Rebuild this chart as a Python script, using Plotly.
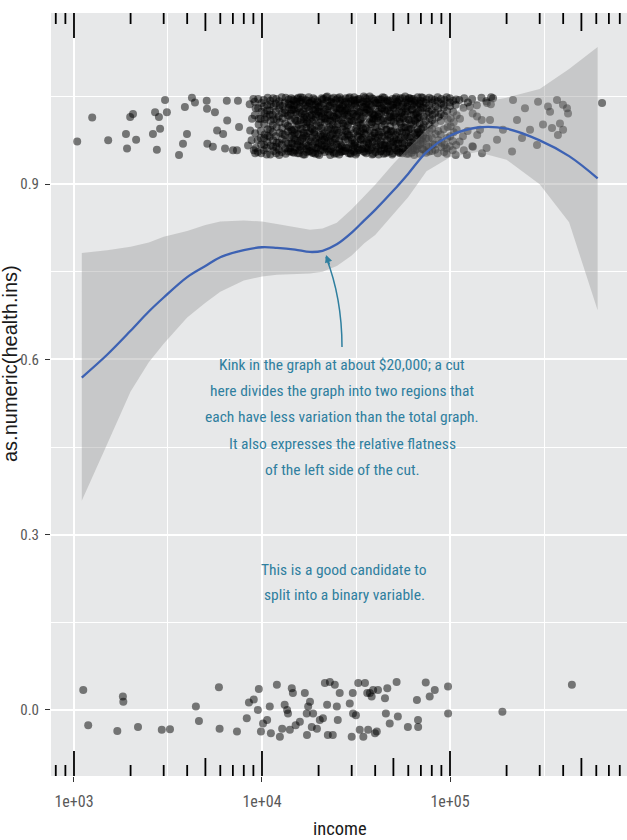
import math
import plotly.graph_objects as go

# ---- smoothed fit of health insurance on income, with its confidence band ----
fit_income = [1100, 1500, 2000, 2500, 3000, 4000, 5000, 6000, 8000, 10000, 12000, 15000, 18000,
              21000, 25000, 30000, 35000, 40000, 50000, 60000, 75000, 100000, 140000, 200000,
              300000, 430000, 610000]
fit_mid = [0.569, 0.608, 0.649, 0.682, 0.706, 0.741, 0.760, 0.775, 0.787, 0.792, 0.791, 0.788, 0.784,
           0.786, 0.797, 0.817, 0.838, 0.856, 0.889, 0.918, 0.955, 0.983, 0.997, 0.995,
           0.975, 0.948, 0.910]
fit_high = [0.782, 0.787, 0.793, 0.800, 0.810, 0.820, 0.830, 0.836, 0.838, 0.836, 0.832, 0.826, 0.822,
            0.824, 0.834, 0.857, 0.880, 0.899, 0.935, 0.962, 0.993, 1.022, 1.039, 1.048,
            1.063, 1.097, 1.135]
fit_low = [0.358, 0.455, 0.545, 0.595, 0.627, 0.672, 0.697, 0.716, 0.735, 0.742, 0.745, 0.746, 0.747,
           0.750, 0.760, 0.778, 0.799, 0.813, 0.848, 0.878, 0.922, 0.946, 0.955, 0.942,
           0.900, 0.835, 0.684]

# ---- jittered observations without insurance (health.ins = 0) ----
bottom_income = [1120, 1190, 1700, 1820, 1830, 2190, 2930, 3240, 4450, 4620, 5900, 5950, 7360, 8300,
                 8520, 9040, 9500, 9620, 9870, 10130, 10650, 11000, 11150, 12000, 12450, 12800,
                 13200, 13600, 13750, 14070, 14400, 14600, 15100, 15900, 16900, 17300, 17350,
                 17600, 18000, 18400, 18700, 19600, 20300, 21100, 21600, 22200, 22400, 22960,
                 23800, 24400, 25000, 25300, 25900, 29300, 30000, 30400, 30500, 31600, 32500,
                 33100, 34600, 35300, 36300, 36700, 37500, 38300, 39000, 39900, 40800, 41400,
                 45100, 45600, 46400, 47800, 52000, 52800, 59700, 66700, 67600, 67700, 74300,
                 78000, 83000, 97600, 97700, 190000, 445000]
bottom_health = [0.034, -0.026, -0.036, 0.023, 0.014, -0.029, -0.034, -0.033, 0.006, -0.019, 0.039,
                 -0.032, -0.037, -0.014, 0.013, 0.018, 0.0, 0.036, -0.037, -0.023, -0.017, 0.006,
                 -0.04, 0.043, -0.046, -0.032, 0.009, 0.0, -0.006, -0.034, 0.037, 0.029, -0.026,
                 -0.02, 0.029, -0.006, -0.043, 0.006, 0.014, -0.029, -0.006, -0.032, -0.017,
                 -0.014, 0.046, 0.009, -0.043, 0.048, -0.043, 0.043, 0.006, -0.017, 0.029, 0.011,
                 -0.046, 0.029, -0.006, -0.009, 0.046, -0.034, -0.046, 0.046, 0.029, -0.034,
                 0.029, 0.023, 0.034, -0.04, -0.037, 0.034, 0.02, -0.006, 0.037, -0.023, 0.048,
                 -0.011, -0.029, 0.017, -0.017, -0.029, 0.047, 0.023, 0.034, 0.04, -0.006,
                 -0.003, 0.043]

# ---- jittered observations with insurance (health.ins = 1) ----
# sparse low incomes
top_left_income = [1040, 1250, 1520, 1890, 1915, 1990, 2060, 2140, 2630, 2700, 2760, 2830, 2870,
                   3050, 3120, 3620, 3800, 3890, 3990, 4240, 4400, 5080, 5100, 5120, 5480, 5620,
                   5770, 6210, 6360, 6500, 6530, 7010, 7360, 7450, 7550, 8430, 8600, 8650, 8800,
                   8850, 9000, 9050]
top_left_health = [0.973, 1.014, 0.975, 0.986, 0.961, 1.015, 1.020, 0.976, 0.986, 1.023, 0.959,
                   1.015, 0.995, 1.044, 1.023, 0.950, 0.969, 1.032, 0.986, 1.048, 1.040, 1.043,
                   1.029, 0.969, 0.964, 1.023, 0.992, 0.986, 0.961, 1.043, 1.009, 0.958, 0.958,
                   1.043, 0.998, 0.966, 1.037, 0.992, 0.975, 1.012, 1.046, 0.958]

# dense middle incomes: one income per column, several jittered values per column
cloud_income = [9200, 9540, 9900, 10270, 10660, 11060, 11470, 11900, 12350, 12810, 13290, 13790,
                14300, 14840, 15390, 15970, 16570, 17190, 17830, 18500, 19190, 19910, 20650,
                21430, 22230, 23060, 23920, 24820, 25740, 26710, 27710, 28740, 29820, 30930,
                32090, 33290, 34540, 35830, 37170, 38560, 40000, 41500, 43050, 44660, 46330,
                48070, 49860, 51730, 53670, 55670, 57760, 59920, 62160, 64480, 66900, 69400,
                72000, 74690, 77480, 80380, 83390, 86510, 89750, 93110, 96600, 100200, 104000,
                107900]
cloud_health = [
    [1.041, 0.987, 0.962, 1.018, 0.953, 1.030],
    [0.955, 1.030, 1.002, 0.975, 1.046, 1.012],
    [1.012, 0.968, 1.039, 0.991, 0.953, 1.024, 0.979],
    [1.044, 0.979, 1.021, 0.958, 1.003, 0.985, 1.033, 0.967, 1.011],
    [0.962, 1.035, 0.994, 1.015, 0.972, 1.048, 0.951, 1.026, 0.983],
    [1.026, 0.951, 1.008, 0.981, 1.043, 0.966, 1.019, 0.994, 1.037],
    [0.989, 1.047, 0.957, 1.019, 0.975, 1.033, 1.001, 0.964, 1.011],
    [1.038, 0.964, 0.998, 1.024, 0.953, 1.011, 0.982, 1.046, 0.971],
    [0.971, 1.042, 1.006, 0.959, 1.029, 0.988, 1.016, 0.950, 1.035],
    [1.049, 0.977, 1.013, 0.955, 0.996, 1.034, 0.968, 1.022, 0.986],
    [0.984, 1.022, 0.952, 1.040, 1.004, 0.973, 1.027, 0.961, 1.048],
    [1.017, 0.961, 1.045, 0.990, 0.969, 1.031, 1.000, 0.956, 1.038],
    [0.956, 1.036, 0.983, 1.009, 1.047, 0.970, 1.021, 0.993, 1.028],
    [1.028, 0.993, 0.963, 1.043, 0.978, 1.012, 0.954, 1.035, 0.987],
    [0.999, 1.046, 0.967, 1.020, 0.986, 0.953, 1.037, 1.008, 0.974],
    [1.033, 0.974, 1.010, 0.958, 1.041, 0.995, 1.023, 0.965, 1.049],
    [0.965, 1.025, 0.988, 1.048, 0.951, 1.006, 0.979, 1.039, 1.014],
    [1.044, 0.997, 0.960, 1.030, 0.982, 1.015, 0.969, 1.003, 0.955],
    [0.976, 1.039, 1.003, 0.957, 1.026, 0.990, 1.049, 0.963, 1.017],
    [1.019, 0.954, 1.036, 0.980, 1.007, 0.966, 1.042, 0.994, 1.028],
    [0.992, 1.028, 0.962, 1.045, 0.973, 1.014, 0.985, 0.952, 1.036],
    [1.040, 0.970, 1.017, 0.952, 1.032, 0.999, 0.963, 1.024, 0.981],
    [0.958, 1.011, 1.047, 0.984, 1.022, 0.967, 1.035, 0.996, 0.975],
    [1.024, 0.987, 0.955, 1.038, 0.976, 1.005, 1.046, 0.964, 1.013],
    [0.981, 1.043, 1.008, 0.961, 1.029, 0.993, 0.970, 1.050, 1.018],
    [1.034, 0.959, 0.995, 1.018, 0.950, 1.041, 0.983, 1.009, 0.972],
    [0.972, 1.016, 1.048, 0.986, 0.964, 1.027, 1.002, 0.955, 1.039],
    [1.013, 0.953, 1.031, 0.978, 1.044, 0.968, 0.997, 1.022, 0.985],
    [0.988, 1.037, 0.960, 1.021, 0.974, 1.049, 1.009, 0.951, 1.030],
    [1.045, 0.982, 1.014, 0.956, 1.033, 0.994, 0.965, 1.026, 1.004],
    [0.963, 1.026, 0.991, 1.040, 0.957, 1.004, 1.019, 0.977, 1.047],
    [1.030, 0.975, 1.047, 1.001, 0.962, 1.016, 0.985, 1.038, 0.953],
    [0.994, 1.042, 0.958, 1.023, 0.980, 1.036, 0.952, 1.010, 0.969],
    [1.008, 0.966, 1.035, 0.987, 1.049, 0.971, 1.020, 0.956, 1.043],
    [0.954, 1.018, 0.983, 1.044, 1.000, 0.962, 1.031, 0.991, 1.025],
    [1.039, 0.990, 1.025, 0.959, 1.011, 0.977, 1.046, 0.968, 1.002],
    [0.979, 1.032, 0.956, 1.003, 1.041, 0.968, 1.015, 0.995, 1.050],
    [1.022, 0.961, 1.046, 0.985, 0.953, 1.028, 0.996, 1.037, 0.973],
    [0.969, 1.012, 0.992, 1.037, 0.976, 1.050, 0.958, 1.024, 1.006],
    [1.047, 0.983, 1.020, 0.963, 1.006, 0.972, 1.034, 0.951, 1.013],
    [0.987, 1.029, 0.955, 1.043, 0.998, 0.966, 1.017, 0.979, 1.039],
    [1.016, 0.960, 1.038, 0.979, 1.024, 0.951, 1.008, 1.045, 0.990],
    [0.973, 1.045, 0.989, 1.010, 0.957, 1.030, 0.968, 1.021, 0.999],
    [1.035, 0.968, 1.002, 0.952, 1.048, 0.981, 1.013, 0.961, 1.027],
    [0.993, 1.027, 0.962, 1.040, 0.975, 1.009, 0.955, 1.044, 0.984],
    [1.043, 0.979, 1.014, 0.956, 0.999, 1.032, 0.967, 1.021, 0.990],
    [0.965, 1.031, 0.990, 1.046, 0.972, 1.007, 0.953, 1.036, 1.016],
    [1.021, 0.958, 1.036, 0.984, 1.049, 0.969, 1.003, 0.976, 1.041],
    [0.976, 1.044, 1.007, 0.961, 1.025, 0.991, 1.034, 0.954, 1.012],
    [1.033, 0.988, 0.953, 1.015, 0.970, 1.047, 0.996, 1.024, 0.962],
    [0.970, 1.040, 0.997, 1.019, 0.957, 1.030, 0.983, 1.050, 1.006],
    [1.025, 0.960, 1.047, 0.981, 1.011, 0.966, 1.038, 0.993, 0.952],
    [0.982, 1.018, 0.954, 1.042, 0.995, 1.028, 0.971, 1.005, 1.046],
    [1.046, 0.974, 1.009, 0.962, 1.033, 0.987, 1.019, 0.950, 1.040],
    [0.960, 1.036, 0.994, 1.022, 0.978, 1.049, 0.965, 1.012, 0.988],
    [1.014, 0.985, 1.043, 0.952, 1.027, 0.969, 1.004, 1.037, 0.976],
    [0.997, 1.031, 0.959, 1.048, 0.983, 1.016, 0.972, 1.041, 1.002],
    [1.039, 0.966, 1.021, 0.989, 0.954, 1.045, 1.008, 0.978, 1.030],
    [0.978, 1.048, 1.001, 0.964, 1.035, 0.992, 1.024, 0.956, 1.013],
    [1.027, 0.957, 1.040, 0.980, 1.010, 0.968, 1.046, 0.995, 1.019],
    [0.968, 1.022, 0.986, 1.044, 0.959, 1.033, 1.004],
    [1.042, 0.991, 1.015, 0.953, 1.029, 0.975, 1.049],
    [0.985, 1.038, 0.963, 1.008, 1.046, 0.971, 1.020],
    [1.031, 0.955, 1.044, 0.994, 1.017, 0.967, 1.036],
    [0.961, 1.025, 0.998, 1.049, 0.979, 1.011, 0.952],
    [1.047, 0.982, 1.013, 0.965, 1.034, 0.999, 1.040],
    [0.974, 1.043, 1.006, 0.958, 1.024, 0.989],
    [1.036, 0.967, 1.018, 0.950, 1.045, 0.993],
]

# the busiest stretch of incomes, between the columns above
core_income = [14040, 14570, 15110, 15680, 16270, 16880, 17510, 18160, 18840, 19550, 20280, 21040,
               21830, 22640, 23490, 24370, 25280, 26220, 27210, 28220, 29280, 30370, 31510, 32690,
               33910, 35180, 36500, 37860, 39280, 40750, 42270, 43850, 45490, 47190, 48960, 50790,
               52690, 54660, 56710, 58830, 61030, 63310, 65680, 68140, 70690]
core_health = [
    [0.998, 1.036, 0.962, 1.017, 0.980], [1.027, 0.969, 1.045, 0.991, 0.955],
    [0.975, 1.009, 1.041, 0.958, 1.024], [1.048, 0.986, 0.953, 1.030, 1.002],
    [0.963, 1.021, 0.994, 1.044, 0.977], [1.011, 0.951, 1.035, 0.983, 1.019],
    [0.987, 1.043, 0.966, 1.006, 1.032], [1.039, 0.973, 1.014, 0.957, 0.996],
    [0.954, 1.026, 0.989, 1.047, 1.010], [1.020, 0.961, 1.042, 0.978, 1.001],
    [0.971, 1.033, 1.005, 0.950, 1.024], [1.045, 0.992, 0.959, 1.016, 0.982],
    [0.979, 1.012, 1.049, 0.965, 1.028], [1.034, 0.956, 0.997, 1.022, 0.974],
    [0.960, 1.040, 1.008, 0.985, 1.046], [1.015, 0.977, 1.031, 0.952, 0.993],
    [0.992, 1.047, 0.963, 1.019, 1.003], [1.029, 0.968, 1.010, 1.043, 0.955],
    [0.957, 1.022, 0.981, 1.036, 0.999], [1.041, 0.990, 1.018, 0.962, 1.027],
    [0.983, 1.030, 0.953, 1.007, 1.049], [1.008, 0.964, 1.044, 0.976, 1.021],
    [0.969, 1.016, 0.995, 1.038, 0.951], [1.046, 0.981, 1.023, 0.958, 1.005],
    [0.976, 1.037, 0.960, 1.012, 0.990], [1.023, 0.955, 1.048, 0.987, 1.032],
    [0.994, 1.028, 0.971, 1.041, 0.962], [1.037, 0.959, 1.003, 1.025, 0.980],
    [0.952, 1.019, 0.988, 1.046, 1.011], [1.012, 0.974, 1.039, 0.963, 0.998],
    [0.985, 1.045, 0.956, 1.020, 1.034], [1.030, 0.967, 1.008, 0.981, 1.049],
    [0.966, 1.024, 0.993, 1.042, 0.953], [1.042, 0.986, 1.015, 0.960, 1.026],
    [0.973, 1.035, 0.951, 1.009, 0.991], [1.018, 0.962, 1.046, 0.978, 1.030],
    [0.989, 1.040, 0.970, 1.014, 0.957], [1.047, 0.980, 1.022, 0.954, 1.004],
    [0.961, 1.013, 0.997, 1.037, 0.975], [1.025, 0.952, 1.033, 0.988, 1.044],
    [0.980, 1.047, 0.965, 1.010, 0.994], [1.036, 0.971, 1.002, 1.028, 0.958],
    [0.958, 1.020, 0.984, 1.043, 1.007], [1.014, 0.990, 1.038, 0.966, 1.024],
    [0.995, 1.031, 0.960, 1.049, 0.978],
]

# sparse high incomes
top_right_income = [112000, 112500, 113000, 118000, 118500, 119000, 124000, 124500, 131000,
                    131500, 132000, 139000, 139500, 147000, 147500, 156000, 156500, 165000,
                    165500, 169400, 157300, 163200, 177900, 191300, 213800, 216400, 227200,
                    241500, 250500, 266500, 290300, 294000, 312400, 332000, 340500, 348800,
                    370800, 375000, 384500, 399000, 419000, 424400, 399500, 144400, 148000,
                    132400, 123000, 139200, 127600, 117200, 644000]
top_right_health = [1.044, 0.973, 1.012, 1.031, 0.958, 1.047, 0.991, 1.040, 1.046, 0.965, 1.021,
                    1.035, 0.984, 1.048, 1.010, 1.042, 0.962, 1.037, 1.049, 1.047, 1.039, 1.010,
                    0.976, 0.993, 0.956, 1.044, 1.010, 0.979, 1.030, 0.993, 0.967, 1.041, 1.002,
                    1.033, 1.024, 0.996, 1.044, 0.984, 1.004, 1.036, 1.030, 1.021, 0.993, 0.993,
                    0.953, 0.964, 0.950, 1.016, 1.033, 0.982, 1.039]

# axis labelling
x_tick_vals = [1e3, 1e4, 1e5]
x_tick_text = ["1e+03", "1e+04", "1e+05"]
y_tick_vals = [0.0, 0.3, 0.6, 0.9]
y_tick_text = ["0.0", "0.3", "0.6", "0.9"]

note_kink = ["Kink in the graph at about $20,000; a cut",
             "here divides the graph into two regions that",
             "each have less variation than the total graph.",
             "It also expresses the relative flatness",
             "of the left side of the cut."]
note_binary = ["This is a good candidate to",
               "split into a binary variable."]

# ---- styling / geometry ----
W, H = 627, 840
M_L, M_R, M_T, M_B = 51, 0, 13, 64
PW, PH = W - M_L - M_R, H - M_T - M_B
PANEL = "#e7e8e9"
TEAL = "#2f7f9f"
NARROW = "Liberation Sans Narrow, Arial Narrow, Roboto Condensed, sans-serif"
X_RANGE = [2.8777, 5.9415]        # log10(income)
Y_RANGE = [-0.113, 1.193]


def px_x(px):
    return (px - M_L) / PW


def px_y(py):
    return (H - M_B - py) / PH


# flatten the top band
top_income = list(top_left_income)
top_health = list(top_left_health)
for incomes, rows in ((cloud_income, cloud_health), (core_income, core_health)):
    for inc, vals in zip(incomes, rows):
        for k, v in enumerate(vals):
            top_income.append(inc * (1 + 0.006 * (k % 3 - 1)))
            top_health.append(v)
top_income += top_right_income
top_health += top_right_health

marker = dict(color="black", opacity=0.5, size=8, line=dict(width=0))

fig = go.Figure()
fig.add_trace(go.Scatter(x=bottom_income, y=bottom_health, mode="markers", marker=marker,
                         hoverinfo="skip"))
fig.add_trace(go.Scatter(x=top_income, y=top_health, mode="markers", marker=marker,
                         hoverinfo="skip"))
# confidence ribbon
fig.add_trace(go.Scatter(x=fit_income + fit_income[::-1], y=fit_high + fit_low[::-1],
                         mode="lines", fill="toself", fillcolor="rgba(153,153,153,0.4)",
                         line=dict(width=0), hoverinfo="skip"))
# smooth line
fig.add_trace(go.Scatter(x=fit_income, y=fit_mid, mode="lines",
                         line=dict(color="#3d62b3", width=2.3, shape="spline"),
                         hoverinfo="skip"))

shapes = []
# log ticks along top and bottom of the panel
lo, hi = X_RANGE
for d in range(2, 7):
    for k in range(1, 10):
        v = k * 10 ** d
        if not (lo <= math.log10(v) <= hi):
            continue
        L = 25 if k == 1 else (18 if k == 5 else 11)
        for anchor, sign in ((1, -1), (0, 1)):
            shapes.append(dict(type="line", xref="x", yref="paper", ysizemode="pixel",
                               yanchor=anchor, x0=v, x1=v, y0=0, y1=sign * L,
                               line=dict(color="black", width=1.8), layer="above"))

# label backgrounds (cover the grid, sit under the data)
for (x0, x1, y0, y1) in [(206, 477, 347, 487), (264, 424, 552, 612)]:
    shapes.append(dict(type="rect", xref="paper", yref="paper",
                       x0=px_x(x0), x1=px_x(x1), y0=px_y(y1), y1=px_y(y0),
                       fillcolor=PANEL, line=dict(width=0), layer="between"))

# curved pointer from the note to the kink
shapes.append(dict(type="path", xref="paper", yref="paper",
                   path=f"M {px_x(342)} {px_y(347)} Q {px_x(342)} {px_y(298)} "
                        f"{px_x(326)} {px_y(257)}",
                   line=dict(color=TEAL, width=1.5), layer="above"))

annotations = []
annotations.append(dict(xref="paper", yref="paper", x=px_x(326), y=px_y(255), text="",
                        showarrow=True, ax=4, ay=11, arrowhead=2, arrowsize=1,
                        arrowwidth=1.5, arrowcolor=TEAL, standoff=0))
for i, line in enumerate(note_kink):
    annotations.append(dict(xref="paper", yref="paper", x=px_x(342), y=px_y(365 + 26.2 * i),
                            text=line, showarrow=False, xanchor="center", yanchor="middle",
                            font=dict(family=NARROW, size=15.5, color=TEAL)))
for i, line in enumerate(note_binary):
    annotations.append(dict(xref="paper", yref="paper", x=px_x(344), y=px_y(570 + 25 * i),
                            text=line, showarrow=False, xanchor="center", yanchor="middle",
                            font=dict(family=NARROW, size=15.5, color=TEAL)))
# axis titles
annotations.append(dict(xref="paper", yref="paper", x=px_x(340), y=px_y(829), text="income",
                        showarrow=False, xanchor="center", yanchor="middle",
                        font=dict(family=NARROW, size=18.5, color="#1a1a1a")))
annotations.append(dict(xref="paper", yref="paper", x=px_x(10), y=px_y(364),
                        text="as.numeric(health.ins)", textangle=-90, showarrow=False,
                        xanchor="center", yanchor="middle",
                        font=dict(family="Liberation Sans, Arial, sans-serif", size=20,
                                  color="#1a1a1a")))

fig.update_layout(
    width=W, height=H,
    margin=dict(l=M_L, r=M_R, t=M_T, b=M_B, autoexpand=False),
    paper_bgcolor="white", plot_bgcolor=PANEL,
    showlegend=False,
    shapes=shapes, annotations=annotations,
    xaxis=dict(type="log", range=X_RANGE, tickvals=x_tick_vals, ticktext=x_tick_text,
               ticks="outside", ticklen=5, tickwidth=1.3, tickcolor="#333333",
               ticklabelstandoff=6,
               tickfont=dict(family=NARROW, size=16, color="#595959"),
               showgrid=True, gridcolor="white", gridwidth=2, zeroline=False, showline=False,
               minor=dict(tickvals=[10 ** 3.5, 10 ** 4.5, 10 ** 5.5], showgrid=True,
                          gridcolor="white", gridwidth=1, ticks="")),
    yaxis=dict(range=Y_RANGE, tickvals=y_tick_vals, ticktext=y_tick_text,
               ticks="outside", ticklen=5, tickwidth=1.3, tickcolor="#333333",
               ticklabelstandoff=3,
               tickfont=dict(family=NARROW, size=15, color="#595959"),
               showgrid=True, gridcolor="white", gridwidth=2, zeroline=False, showline=False,
               minor=dict(tickvals=[0.15, 0.45, 0.75, 1.05], showgrid=True,
                          gridcolor="white", gridwidth=1, ticks="")),
)

fig.write_html("out.html")
